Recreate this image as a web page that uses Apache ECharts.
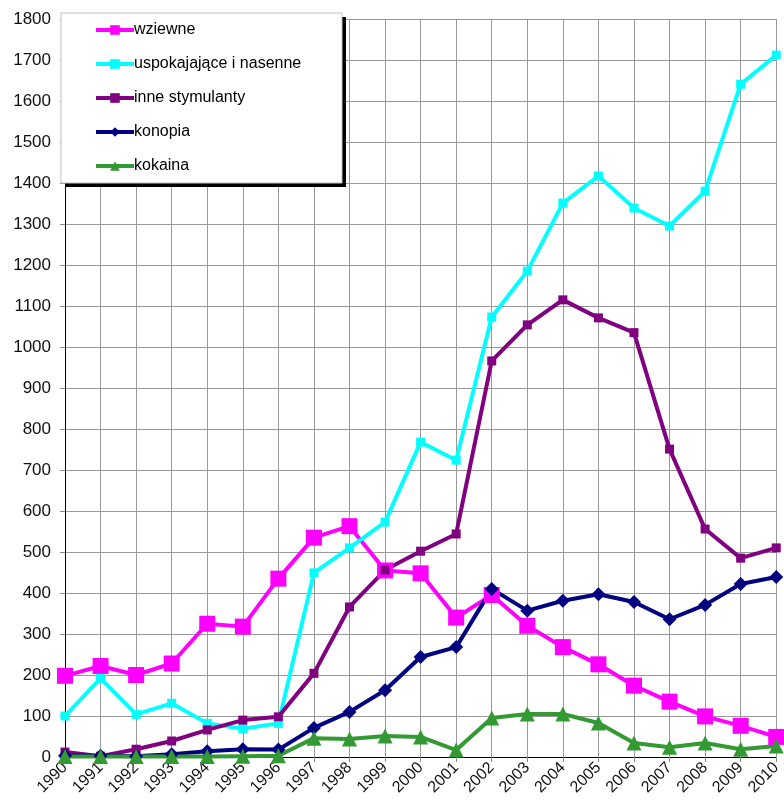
<!DOCTYPE html>
<html><head><meta charset="utf-8">
<script src="https://cdn.jsdelivr.net/npm/echarts@6/dist/echarts.min.js"></script>
<style>html,body{margin:0;padding:0;background:#fff}#c{width:784px;height:808px}</style>
</head><body><div id="c"></div>
<script>
const years = ['1990','1991','1992','1993','1994','1995','1996','1997','1998','1999','2000','2001','2002','2003','2004','2005','2006','2007','2008','2009','2010'];
const wziewne = [198,222,200,228,325,318,435,535,563,455,448,340,395,320,268,226,174,135,99,76,49];
const uspokajajace = [100,192,104,131,82,69,82,449,510,573,768,724,1073,1185,1351,1417,1339,1295,1380,1641,1712];
const inneStymulanty = [12,2,19,39,66,90,98,204,366,456,502,544,966,1054,1115,1071,1035,751,556,485,510];
const konopia = [3,3,2,7,14,19,18,71,110,163,244,268,410,357,381,397,378,336,371,422,439];
const kokaina = [1,1,1,1,1,2,3,46,44,51,49,17,95,105,105,83,34,24,34,19,27];
const yTicks = {min:0, max:1800, interval:100};

const chart = echarts.init(document.getElementById('c'));
function s(name, data, color, symbol, size){
  return {name, type:'line', data, symbol, symbolSize:size, showSymbol:true,
    lineStyle:{color, width:4}, itemStyle:{color}, color, z:3, animation:false};
}
chart.setOption({
  animation:false,
  backgroundColor:'#fff',
  grid:{left:65, right:7, top:19, bottom:51, containLabel:false},
  graphic:[
    {type:'rect', z:5, shape:{x:65, y:17, width:281, height:170}, style:{fill:'#000'}},
    {type:'rect', z:6, shape:{x:61, y:13, width:281, height:170}, style:{fill:'#fff', stroke:'#c0c0c0', lineWidth:1}}
  ],
  legend:{orient:'vertical', left:94, top:22, padding:0, z:10, itemWidth:38, itemHeight:12, itemGap:18,
    lineStyle:{width:4},
    textStyle:{fontFamily:'Liberation Sans, Arial', fontSize:16, color:'#000', padding:[0,0,0,-5]},
    data:['wziewne','uspokajające i nasenne','inne stymulanty','konopia','kokaina']},
  xAxis:{type:'category', data:years, boundaryGap:false,
    axisLine:{lineStyle:{color:'#000', width:1}},
    axisTick:{show:true, length:5, lineStyle:{color:'#888'}},
    axisLabel:{rotate:45, fontFamily:'Liberation Sans, Arial', fontSize:16, color:'#111', margin:8, interval:0},
    splitLine:{show:true, lineStyle:{color:'#999', width:1}}},
  yAxis:{type:'value', min:yTicks.min, max:yTicks.max, interval:yTicks.interval,
    axisLine:{show:true, lineStyle:{color:'#000', width:1}},
    axisTick:{show:true, length:5, lineStyle:{color:'#888'}},
    axisLabel:{fontFamily:'Liberation Sans, Arial', fontSize:17, color:'#111', margin:14, formatter:v=>String(v)},
    splitLine:{show:true, lineStyle:{color:'#999', width:1}}},
  series:[
    s('wziewne', wziewne, '#FF00FF', 'rect', 16),
    s('uspokajające i nasenne', uspokajajace, '#00FFFF', 'rect', 9),
    s('inne stymulanty', inneStymulanty, '#800080', 'rect', 9),
    s('konopia', konopia, '#000080', 'diamond', 14),
    s('kokaina', kokaina, '#339933', 'triangle', 15)
  ]
});
</script></body></html>
